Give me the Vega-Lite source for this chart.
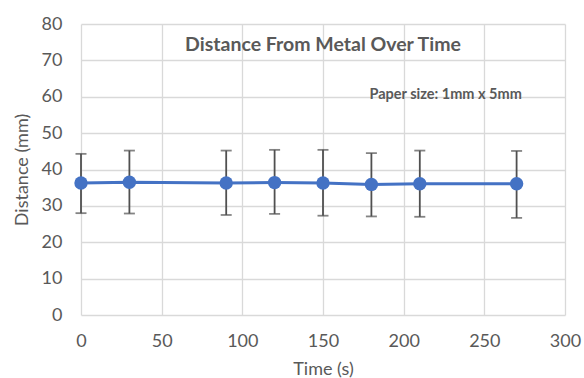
{
  "$schema": "https://vega.github.io/schema/vega-lite/v6.json",
  "width": 484,
  "height": 291,
  "autosize": {"type": "none"},
  "padding": {"left": 81, "top": 24, "right": 19, "bottom": 63},
  "background": "white",
  "title": {
    "text": "Distance From Metal Over Time",
    "font": "Lato",
    "fontSize": 19.5,
    "fontWeight": "bold",
    "color": "#595959",
    "anchor": "middle",
    "frame": "group",
    "offset": -40
  },
  "config": {
    "view": {"stroke": null},
    "font": "Lato",
    "axis": {
      "labelFont": "Lato",
      "labelFontSize": 18,
      "labelColor": "#595959",
      "titleFont": "Lato",
      "titleFontSize": 18,
      "titleFontWeight": "normal",
      "titleColor": "#595959",
      "gridColor": "#d9d9d9",
      "gridWidth": 1.3,
      "ticks": false,
      "domain": false,
      "labelFlush": false
    }
  },
  "data": {
    "values": [
      {"t": 0, "d": 36.3, "lo": 28.0, "hi": 44.3},
      {"t": 30, "d": 36.5, "lo": 27.9, "hi": 45.2},
      {"t": 90, "d": 36.3, "lo": 27.5, "hi": 45.2},
      {"t": 120, "d": 36.4, "lo": 27.8, "hi": 45.4},
      {"t": 150, "d": 36.3, "lo": 27.3, "hi": 45.4},
      {"t": 180, "d": 35.9, "lo": 27.1, "hi": 44.5},
      {"t": 210, "d": 36.1, "lo": 27.0, "hi": 45.2},
      {"t": 270, "d": 36.1, "lo": 26.7, "hi": 45.1}
    ]
  },
  "encoding": {
    "x": {
      "field": "t",
      "type": "quantitative",
      "scale": {"domain": [0, 300], "nice": false},
      "axis": {"values": [0, 50, 100, 150, 200, 250, 300], "title": "Time (s)", "labelPadding": 17, "titlePadding": 10}
    }
  },
  "layer": [
    {
      "mark": {"type": "rule", "color": "#505050", "strokeWidth": 1.8},
      "encoding": {
        "y": {
          "field": "lo",
          "type": "quantitative",
          "scale": {"domain": [0, 80], "nice": false},
          "axis": {"values": [0, 10, 20, 30, 40, 50, 60, 70, 80], "title": "Distance (mm)", "labelPadding": 19, "titlePadding": 10}
        },
        "y2": {"field": "hi"}
      }
    },
    {
      "mark": {"type": "tick", "orient": "horizontal", "color": "#505050", "size": 11, "thickness": 1.8},
      "encoding": {"y": {"field": "lo", "type": "quantitative", "scale": {"domain": [0, 80], "nice": false}, "axis": {"values": [0, 10, 20, 30, 40, 50, 60, 70, 80], "title": "Distance (mm)", "labelPadding": 19, "titlePadding": 10}}}
    },
    {
      "mark": {"type": "tick", "orient": "horizontal", "color": "#505050", "size": 11, "thickness": 1.8},
      "encoding": {"y": {"field": "hi", "type": "quantitative", "scale": {"domain": [0, 80], "nice": false}, "axis": {"values": [0, 10, 20, 30, 40, 50, 60, 70, 80], "title": "Distance (mm)", "labelPadding": 19, "titlePadding": 10}}}
    },
    {
      "mark": {"type": "line", "color": "#4472C4", "strokeWidth": 3},
      "encoding": {"y": {"field": "d", "type": "quantitative", "scale": {"domain": [0, 80], "nice": false}, "axis": {"values": [0, 10, 20, 30, 40, 50, 60, 70, 80], "title": "Distance (mm)", "labelPadding": 19, "titlePadding": 10}}}
    },
    {
      "mark": {"type": "point", "filled": true, "shape": "circle", "color": "#4472C4", "size": 180, "opacity": 1},
      "encoding": {"y": {"field": "d", "type": "quantitative", "scale": {"domain": [0, 80], "nice": false}, "axis": {"values": [0, 10, 20, 30, 40, 50, 60, 70, 80], "title": "Distance (mm)", "labelPadding": 19, "titlePadding": 10}}}
    },
    {
      "data": {"values": [{"t": 226, "y": 60.6, "label": "Paper size: 1mm x 5mm"}]},
      "mark": {"type": "text", "font": "Lato", "fontSize": 14.5, "fontWeight": "bold", "color": "#595959", "align": "center", "baseline": "middle"},
      "encoding": {
        "y": {"field": "y", "type": "quantitative", "scale": {"domain": [0, 80], "nice": false}, "axis": {"values": [0, 10, 20, 30, 40, 50, 60, 70, 80], "title": "Distance (mm)", "labelPadding": 19, "titlePadding": 10}},
        "text": {"field": "label"}
      }
    }
  ]
}
